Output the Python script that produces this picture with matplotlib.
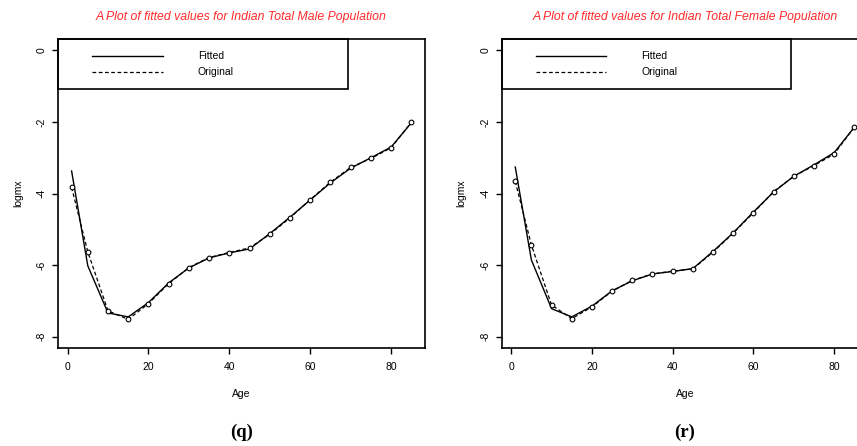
import matplotlib
matplotlib.use("Agg")
import matplotlib.pyplot as plt
from matplotlib.patches import Rectangle

plt.rcParams['font.family'] = ['Liberation Sans', 'DejaVu Sans']

# Data
ages = [1, 5, 10, 15, 20, 25, 30, 35, 40, 45, 50, 55, 60, 65, 70, 75, 80, 85]
fitted_male = [-3.37, -6.02, -7.34, -7.45, -7.05, -6.50, -6.08, -5.80, -5.66,
               -5.55, -5.12, -4.66, -4.18, -3.70, -3.29, -3.00, -2.70, -2.02]
original_male = [-3.83, -5.63, -7.28, -7.52, -7.08, -6.52, -6.07, -5.79, -5.65,
                 -5.52, -5.14, -4.68, -4.17, -3.68, -3.27, -3.02, -2.72, -2.01]
fitted_female = [-3.26, -5.86, -7.22, -7.45, -7.15, -6.72, -6.44, -6.25, -6.18,
                 -6.10, -5.62, -5.10, -4.52, -3.96, -3.52, -3.20, -2.86, -2.15]
original_female = [-3.66, -5.44, -7.12, -7.50, -7.17, -6.73, -6.43, -6.25, -6.17,
                   -6.11, -5.64, -5.11, -4.54, -3.95, -3.52, -3.22, -2.90, -2.15]
x_ticks = [0, 20, 40, 60, 80]
y_ticks = [0, -2, -4, -6, -8]

W, H = 857, 446
fig = plt.figure(figsize=(W / 100, H / 100), dpi=100)


def make_panel(left_px, right_px, title, caption, fitted, original):
    top_px, bottom_px = 39, 348
    ax = fig.add_axes([left_px / W, (H - bottom_px) / H,
                       (right_px - left_px) / W, (bottom_px - top_px) / H])
    ax.plot(ages, fitted, color='black', lw=1.0, ls='-')
    ax.plot(ages, original, color='black', lw=0.9, ls=(0, (3, 2)),
            marker='o', ms=3.4, mfc='white', mec='black', mew=0.8)
    ax.set_xlim(-2.36, 88.36)
    ax.set_ylim(-8.32, 0.32)
    ax.set_xticks(x_ticks)
    ax.set_yticks(y_ticks)
    ax.set_yticklabels([str(v) for v in y_ticks], rotation=90, va='center')
    ax.tick_params(direction='out', length=4, width=1.0, labelsize=7.5)
    ax.tick_params(axis='x', pad=6)
    ax.tick_params(axis='y', pad=4)
    for s in ax.spines.values():
        s.set_linewidth(1.2)
    ax.set_xlabel('Age', fontsize=7.5, labelpad=12)
    ax.set_ylabel('logmx', fontsize=7.5, labelpad=10)
    ax.set_title(title, color='#ff2a2a', fontsize=8.8, style='italic', pad=14)

    # legend box in the R style
    ax.add_patch(Rectangle((0, 0.838), 0.79, 0.162, transform=ax.transAxes,
                           fill=False, lw=1.2, ec='black', clip_on=False))
    ax.plot([0.093, 0.286], [0.945, 0.945], transform=ax.transAxes,
            color='black', lw=1.0)
    ax.plot([0.093, 0.286], [0.893, 0.893], transform=ax.transAxes,
            color='black', lw=0.9, ls=(0, (3, 2)))
    ax.text(0.381, 0.945, 'Fitted', transform=ax.transAxes, fontsize=7.5,
            va='center')
    ax.text(0.381, 0.893, 'Original', transform=ax.transAxes, fontsize=7.5,
            va='center')

    cx = (left_px + right_px) / 2 / W
    fig.text(cx, 1 - 432 / H, caption, ha='center', va='center',
             family='Liberation Serif', weight='bold', fontsize=13.5)
    return ax


make_panel(58, 425, 'A Plot of fitted values for Indian Total Male Population',
           '(q)', fitted_male, original_male)
make_panel(501.7, 867.8, 'A Plot of fitted values for Indian Total Female Population',
           '(r)', fitted_female, original_female)

fig.savefig('out.png', dpi=100)
